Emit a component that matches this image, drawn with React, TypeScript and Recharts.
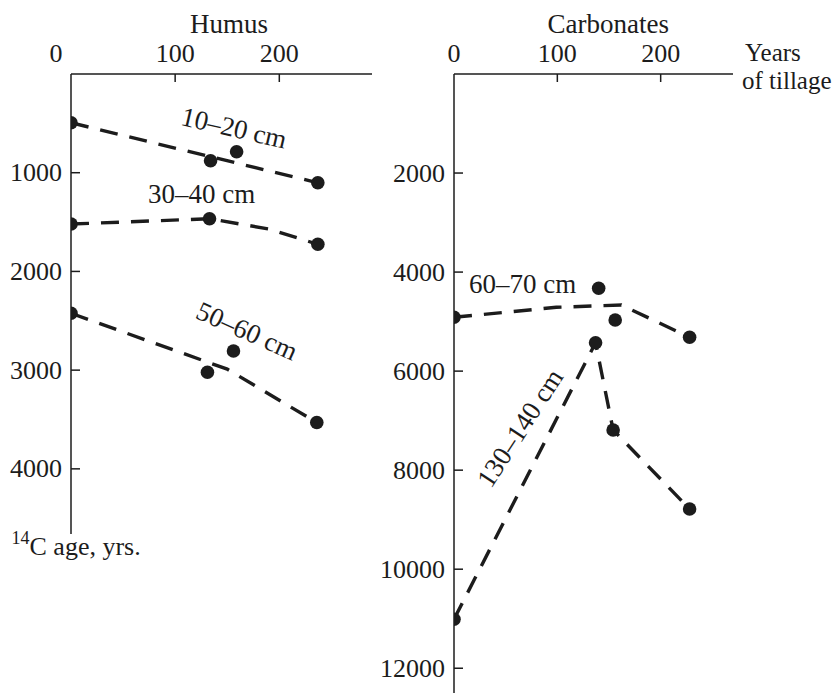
import React from 'react';
import { ComposedChart, XAxis, YAxis, Line, Scatter, Customized } from 'recharts';

const FONT = "'Liberation Serif', 'Times New Roman', serif";
const INK = '#1c1c1c';

// ---------- Humus panel ----------
const humusXTicks = [0, 100, 200];
const humusYTicks = [1000, 2000, 3000, 4000];
const humus1020Points = [
  { x: 0, y: 494 },
  { x: 134, y: 879 },
  { x: 159, y: 788 },
  { x: 237, y: 1102 },
];
const humus1020Trend = [
  { x: 0, y: 494 },
  { x: 237, y: 1102 },
];
const humus3040Points = [
  { x: 0, y: 1520 },
  { x: 133, y: 1466 },
  { x: 237, y: 1725 },
];
const humus3040Trend = [
  { x: 0, y: 1520 },
  { x: 133, y: 1466 },
  { x: 190, y: 1570 },
  { x: 237, y: 1725 },
];
const humus5060Points = [
  { x: 0, y: 2424 },
  { x: 131, y: 3021 },
  { x: 156, y: 2806 },
  { x: 236, y: 3531 },
];
const humus5060Trend = [
  { x: 0, y: 2424 },
  { x: 150, y: 2990 },
  { x: 236, y: 3531 },
];

// ---------- Carbonates panel ----------
const carbXTicks = [0, 100, 200];
const carbYTicks = [2000, 4000, 6000, 8000, 10000, 12000];
const carb6070Points = [
  { x: 0, y: 4913 },
  { x: 140, y: 4327 },
  { x: 156, y: 4968 },
  { x: 228, y: 5317 },
];
const carb6070Trend = [
  { x: 0, y: 4913 },
  { x: 99, y: 4711 },
  { x: 162, y: 4665 },
  { x: 228, y: 5317 },
];
const carb130140Points = [
  { x: 0, y: 11012 },
  { x: 137, y: 5426 },
  { x: 154, y: 7189 },
  { x: 228, y: 8784 },
];
const carb130140Trend = [
  { x: 0, y: 11012 },
  { x: 137, y: 5426 },
  { x: 154, y: 7189 },
  { x: 228, y: 8784 },
];

const DASH = '18 12';
const LW = 3.4;

const dotShape = (p: any) => <circle cx={p.cx} cy={p.cy} r={6.8} fill={INK} />;

const makeXTick = (zeroShift: number) => (props: any) => {
  const { x, y, payload } = props;
  const v = payload.value;
  const shift = v === 0 ? zeroShift : 0;
  return (
    <g>
      {v !== 0 && <line x1={x} y1={y} x2={x} y2={y + 8} stroke={INK} strokeWidth={1.5} />}
      <text x={x + shift} y={y - 12} textAnchor="middle" fontFamily={FONT} fontSize={26} fill={INK}>
        {v}
      </text>
    </g>
  );
};

const yTick = (props: any) => {
  const { x, y, payload } = props;
  return (
    <g>
      <line x1={x} y1={y} x2={x + 9} y2={y} stroke={INK} strokeWidth={1.5} />
      <text x={x - 9} y={y + 8.5} textAnchor="end" fontFamily={FONT} fontSize={26} fill={INK}>
        {payload.value}
      </text>
    </g>
  );
};

const HumusNotes = () => (
  <g fontFamily={FONT} fill={INK}>
    <text x={229} y={33} textAnchor="middle" fontSize={27}>Humus</text>
    <text x={234} y={128} textAnchor="middle" dominantBaseline="central" fontSize={27} transform="rotate(13 234 128)">
      10–20 cm
    </text>
    <text x={148} y={203} fontSize={27}>30–40 cm</text>
    <text x={247} y={331} textAnchor="middle" dominantBaseline="central" fontSize={27} transform="rotate(24 247 331)">
      50–60 cm
    </text>
    <text x={11.5} y={555} fontSize={26}>
      <tspan fontSize={18} dy={-11}>14</tspan>
      <tspan dy={11}>C age, yrs.</tspan>
    </text>
  </g>
);

const CarbNotes = () => (
  <g fontFamily={FONT} fill={INK}>
    <text x={228.3} y={33} textAnchor="middle" fontSize={27}>Carbonates</text>
    <text x={365} y={61} fontSize={25}>Years</text>
    <text x={362} y={88.5} fontSize={25}>of tillage</text>
    <text x={89} y={293} fontSize={27}>60–70 cm</text>
    <text x={140} y={428} textAnchor="middle" dominantBaseline="central" fontSize={27} transform="rotate(-57 140 428)">
      130–140 cm
    </text>
  </g>
);

const axisLine = { stroke: INK, strokeWidth: 1.5 };

export default function App() {
  return (
    <div style={{ position: 'absolute', left: 0, top: 0, width: 836, height: 694, background: '#fff' }}>
      <div style={{ position: 'absolute', left: 0, top: 0 }}>
        <ComposedChart width={380} height={694} margin={{ top: 44, left: 11, right: 8, bottom: 160 }}>
          <XAxis
            type="number"
            dataKey="x"
            orientation="top"
            domain={[0, 289]}
            ticks={humusXTicks}
            interval={0}
            allowDataOverflow
            height={30}
            axisLine={axisLine}
            tickLine={false}
            tickSize={0}
            tickMargin={0}
            tick={makeXTick(-15)}
          />
          <YAxis
            type="number"
            dataKey="y"
            reversed
            domain={[0, 4660]}
            ticks={humusYTicks}
            interval={0}
            allowDataOverflow
            width={60}
            axisLine={axisLine}
            tickLine={false}
            tickSize={0}
            tickMargin={0}
            tick={yTick}
          />
          <Line data={humus1020Trend} dataKey="y" type="linear" stroke={INK} strokeWidth={LW} strokeDasharray={DASH} dot={false} isAnimationActive={false} />
          <Line data={humus3040Trend} dataKey="y" type="linear" stroke={INK} strokeWidth={LW} strokeDasharray={DASH} dot={false} isAnimationActive={false} />
          <Line data={humus5060Trend} dataKey="y" type="linear" stroke={INK} strokeWidth={LW} strokeDasharray={DASH} dot={false} isAnimationActive={false} />
          <Scatter data={humus1020Points} dataKey="y" shape={dotShape} isAnimationActive={false} />
          <Scatter data={humus3040Points} dataKey="y" shape={dotShape} isAnimationActive={false} />
          <Scatter data={humus5060Points} dataKey="y" shape={dotShape} isAnimationActive={false} />
          <Customized component={HumusNotes} />
        </ComposedChart>
      </div>
      <div style={{ position: 'absolute', left: 380, top: 0 }}>
        <ComposedChart width={456} height={694} margin={{ top: 44, left: 14, right: 103, bottom: 1 }}>
          <XAxis
            type="number"
            dataKey="x"
            orientation="top"
            domain={[0, 270]}
            ticks={carbXTicks}
            interval={0}
            allowDataOverflow
            height={30}
            axisLine={axisLine}
            tickLine={false}
            tickSize={0}
            tickMargin={0}
            tick={makeXTick(0)}
          />
          <YAxis
            type="number"
            dataKey="y"
            reversed
            domain={[0, 12500]}
            ticks={carbYTicks}
            interval={0}
            allowDataOverflow
            width={60}
            axisLine={axisLine}
            tickLine={false}
            tickSize={0}
            tickMargin={0}
            tick={yTick}
          />
          <Line data={carb6070Trend} dataKey="y" type="linear" stroke={INK} strokeWidth={LW} strokeDasharray={DASH} dot={false} isAnimationActive={false} />
          <Line data={carb130140Trend} dataKey="y" type="linear" stroke={INK} strokeWidth={LW} strokeDasharray={DASH} dot={false} isAnimationActive={false} />
          <Scatter data={carb6070Points} dataKey="y" shape={dotShape} isAnimationActive={false} />
          <Scatter data={carb130140Points} dataKey="y" shape={dotShape} isAnimationActive={false} />
          <Customized component={CarbNotes} />
        </ComposedChart>
      </div>
    </div>
  );
}
